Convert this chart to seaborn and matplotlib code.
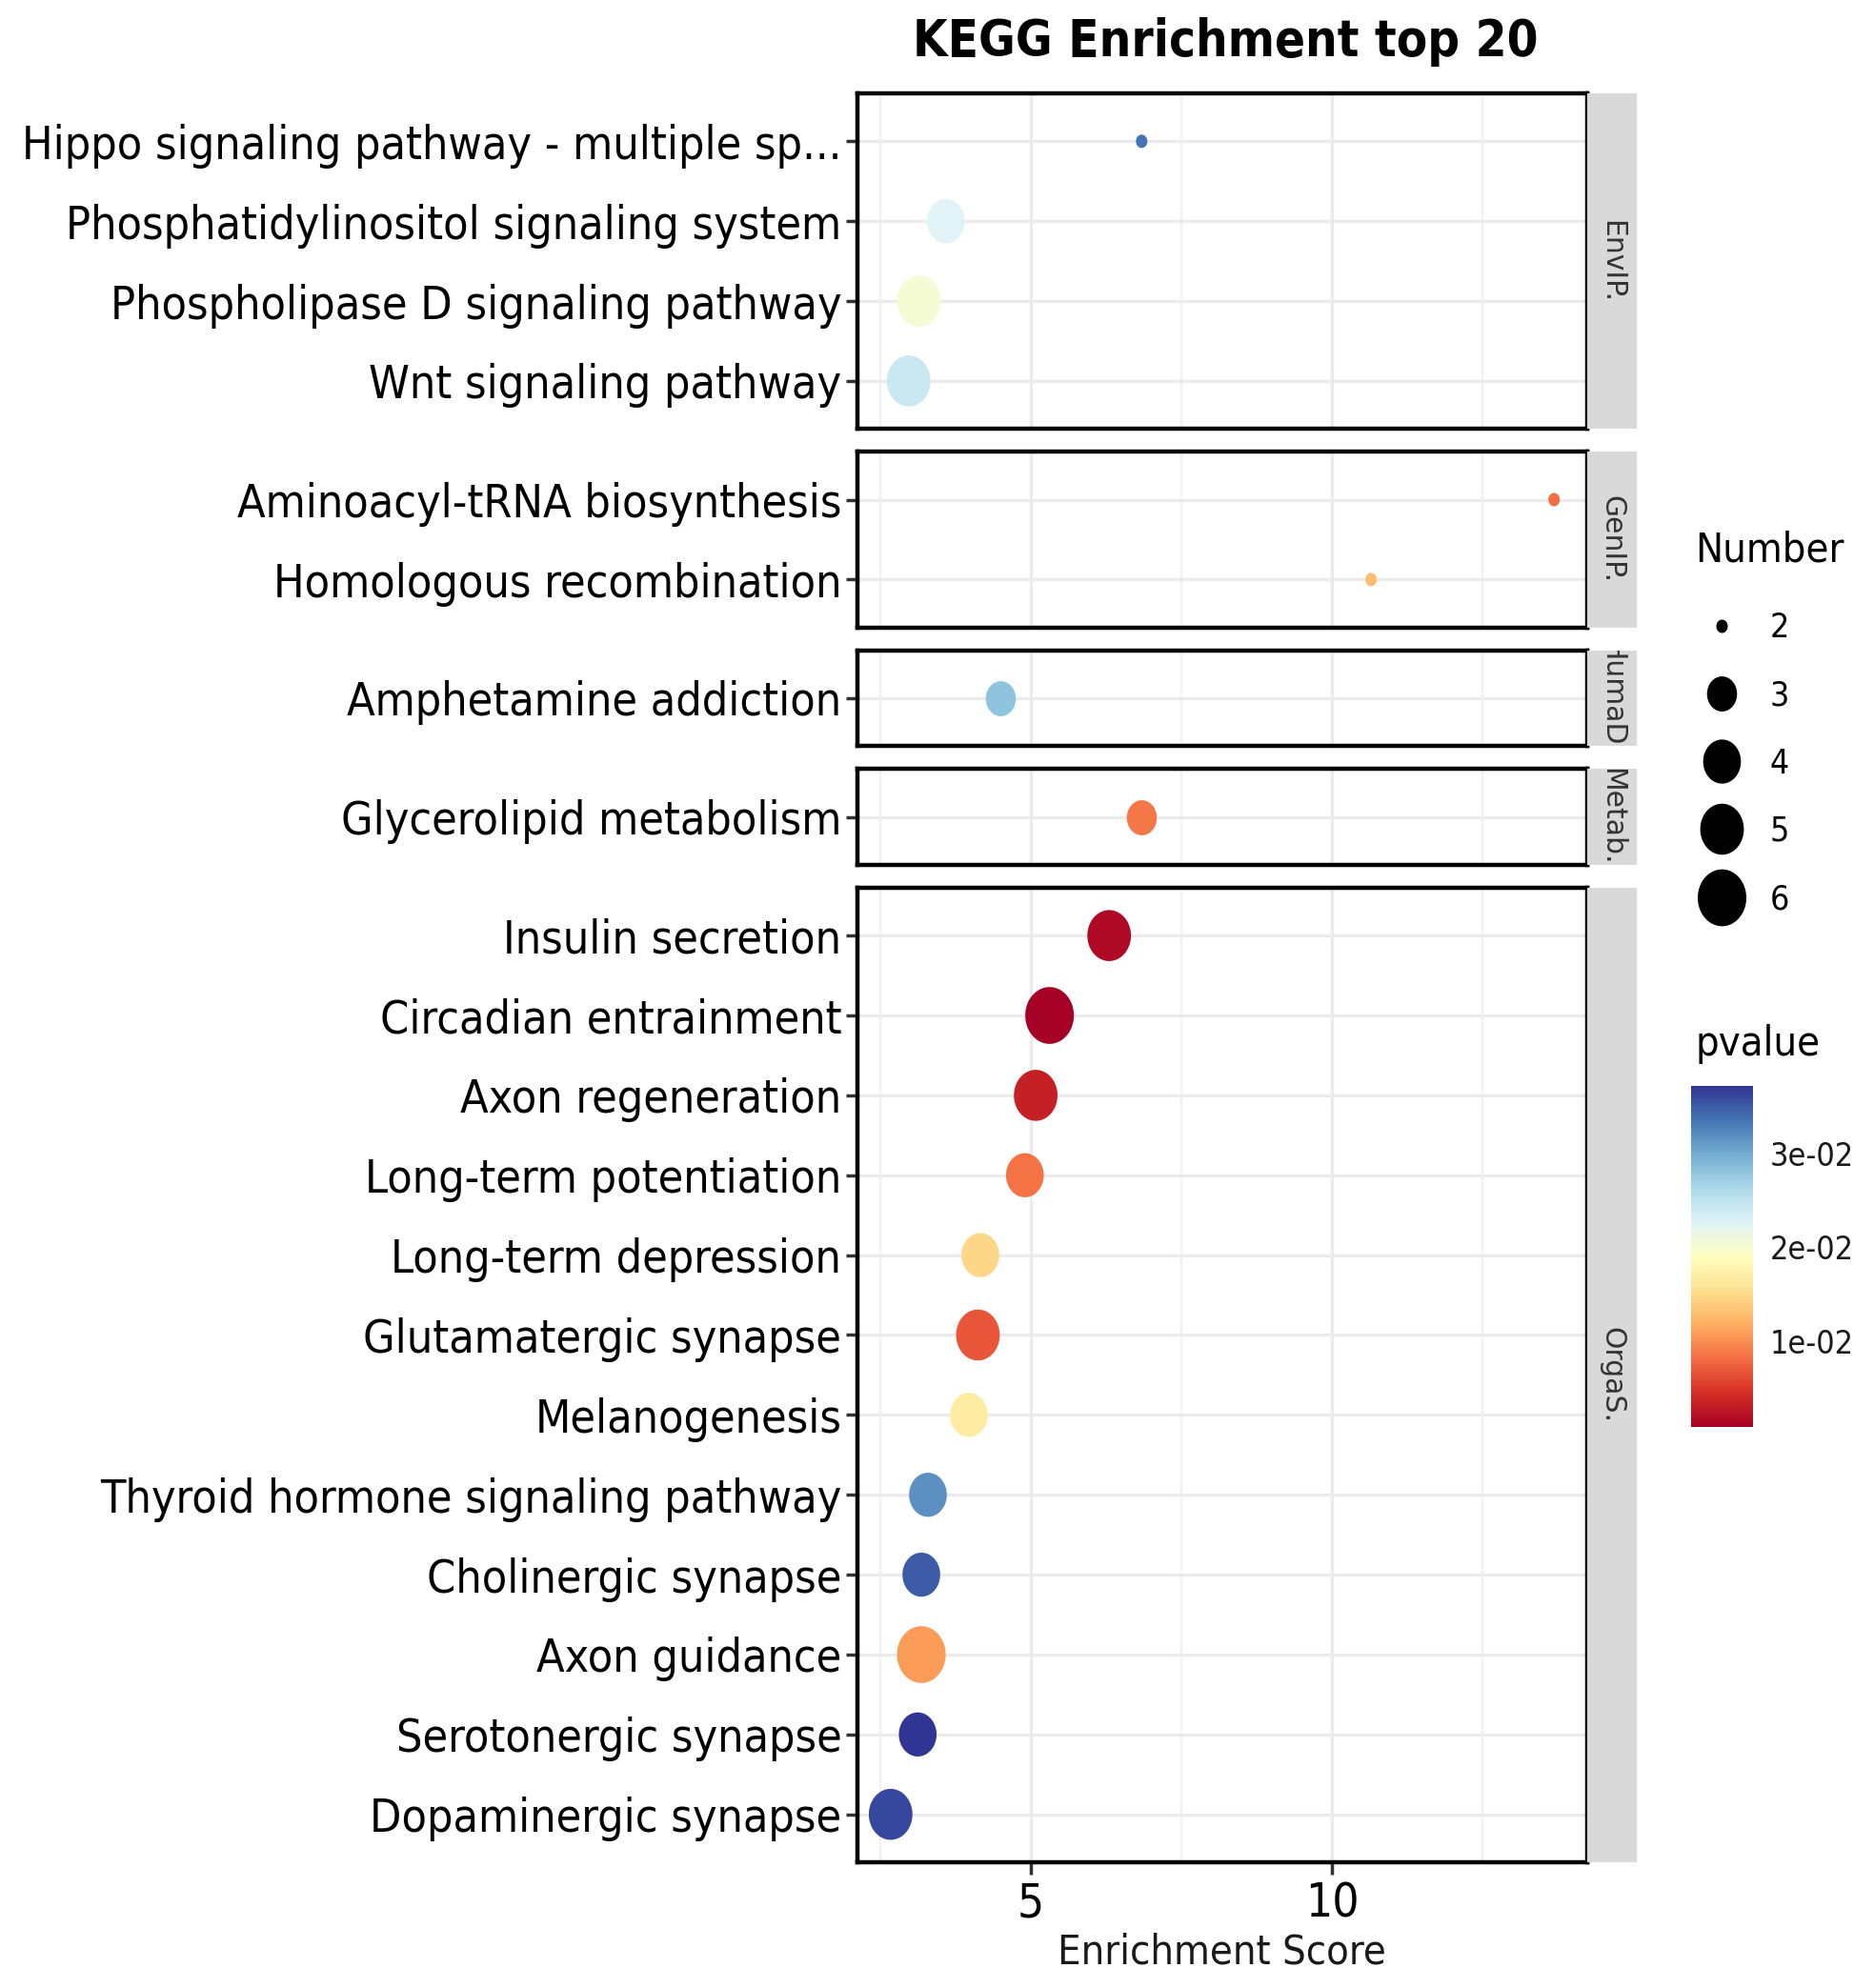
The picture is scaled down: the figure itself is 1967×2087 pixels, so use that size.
import numpy as np
import pandas as pd
import matplotlib
matplotlib.use('Agg')
import matplotlib.pyplot as plt
import seaborn as sns
from matplotlib import font_manager as fm
from matplotlib.path import Path
from matplotlib.lines import Line2D
from matplotlib.colors import Normalize
from matplotlib.cm import ScalarMappable
from matplotlib.ticker import MultipleLocator

# KEGG top 20 terms, listed top to bottom inside each class
terms = ["Hippo signaling pathway - multiple sp...", "Phosphatidylinositol signaling system",
         "Phospholipase D signaling pathway", "Wnt signaling pathway",
         "Aminoacyl-tRNA biosynthesis", "Homologous recombination",
         "Amphetamine addiction", "Glycerolipid metabolism",
         "Insulin secretion", "Circadian entrainment", "Axon regeneration",
         "Long-term potentiation", "Long-term depression", "Glutamatergic synapse",
         "Melanogenesis", "Thyroid hormone signaling pathway", "Cholinergic synapse",
         "Axon guidance", "Serotonergic synapse", "Dopaminergic synapse"]
classes = ["EnvIP."] * 4 + ["GenIP."] * 2 + ["HumaD."] + ["Metab."] + ["OrgaS."] * 12
scores = [6.84, 3.59, 3.14, 2.97, 13.69, 10.65, 4.49, 6.84, 6.30, 5.31, 5.08, 4.90,
          4.16, 4.12, 3.97, 3.29, 3.18, 3.18, 3.12, 2.67]
numbers = [2, 4, 5, 5, 2, 2, 3, 3, 5, 6, 5, 4, 4, 5, 4, 4, 4, 6, 4, 5]
pvalues = [0.0336, 0.0225, 0.0203, 0.0242, 0.0081, 0.0128, 0.0281, 0.0088, 0.0016,
           0.00086, 0.0034, 0.0085, 0.0147, 0.0067, 0.0168, 0.0317, 0.0350, 0.0107,
           0.0372, 0.0362]
class_order = ["EnvIP.", "GenIP.", "HumaD.", "Metab.", "OrgaS."]
number_levels = [2, 3, 4, 5, 6]
cbar_ticks = [0.01, 0.02, 0.03]
cbar_labels = ["1e-02", "2e-02", "3e-02"]

data = pd.DataFrame({'term': terms, 'class': classes, 'score': scores,
                     'Number': numbers, 'pvalue': pvalues})

sns.set_theme(style='white')
# condensed DejaVu gives the tall narrow look of the original, if installed
condensed = any(f.name == 'DejaVu Sans' and f.stretch == 'condensed'
                for f in fm.fontManager.ttflist)
k = 1 / 0.9 if condensed else 1.0
plt.rcParams['font.family'] = ['DejaVu Sans']
plt.rcParams['font.stretch'] = 'condensed' if condensed else 'normal'
plt.rcParams['text.color'] = 'black'
plt.rcParams['axes.labelcolor'] = 'black'

# points in the original are slightly taller than wide
t = np.linspace(0, 2 * np.pi, 80)
ellipse = Path(np.column_stack([0.855 * np.cos(t), np.sin(t)]), closed=True)


def height_pt(v):
    lo, hi = min(number_levels), max(number_levels)
    return 1.17 * (12 + 39 * np.sqrt((v - lo) / (hi - lo))) * 0.72


size_map = {v: height_pt(v) ** 2 for v in number_levels}
norm = Normalize(vmin=min(pvalues), vmax=max(pvalues))
cmap = plt.get_cmap('RdYlBu')

W, H = 1967, 2087
fig = plt.figure(figsize=(W / 100, H / 100), dpi=100)
counts = [classes.count(c) for c in class_order]
gs = fig.add_gridspec(len(class_order), 2, height_ratios=[n + 0.2 for n in counts],
                      width_ratios=[766, 52], left=900 / W, right=1718 / W,
                      top=1 - 98 / H, bottom=1 - 1955 / H, hspace=0.068, wspace=0)

span = max(scores) - min(scores)
xlim = (min(scores) - 0.05 * span, max(scores) + 0.05 * span)

for i, cl in enumerate(class_order):
    ax = fig.add_subplot(gs[i, 0])
    sub = data[data['class'] == cl]
    sns.scatterplot(data=sub, x='score', y='term', hue='pvalue', size='Number',
                    palette=cmap, hue_norm=norm, sizes=size_map, marker=ellipse,
                    linewidth=0, legend=False, ax=ax, zorder=3)
    ax.set_xlim(xlim)
    ax.set_ylim(len(sub) - 0.4, -0.6)
    ax.set_xlabel('')
    ax.set_ylabel('')
    ax.xaxis.set_major_locator(MultipleLocator(5))
    ax.xaxis.set_minor_locator(MultipleLocator(2.5))
    ax.set_axisbelow(True)
    ax.grid(True, which='major', color='#EBEBEB', lw=2.4)
    ax.grid(True, which='minor', axis='x', color='#F2F2F2', lw=1.6)
    for sp in ax.spines.values():
        sp.set_visible(True)
        sp.set_color('black')
        sp.set_linewidth(3.2)
    ax.tick_params(axis='y', left=True, length=9, width=2.5, color='#333333',
                   pad=3, labelsize=31.3 * k, labelcolor='black')
    ax.tick_params(axis='x', which='minor', length=0)
    if i == len(class_order) - 1:
        ax.tick_params(axis='x', bottom=True, length=9, width=2.5, color='#333333',
                       pad=5, labelsize=32 * k, labelcolor='black')
    else:
        ax.tick_params(axis='x', bottom=False, labelbottom=False)

    strip = fig.add_subplot(gs[i, 1])
    strip.set_facecolor('#D9D9D9')
    strip.set_xticks([])
    strip.set_yticks([])
    for sp in strip.spines.values():
        sp.set_visible(False)
    strip.text(0.5, 0.5, cl, rotation=270, ha='center', va='center',
               transform=strip.transAxes, fontsize=21.5, color='#333333',
               fontstretch='normal', clip_on=True)

fig.text(1286 / W, 1 - 44 / H, 'KEGG Enrichment top 20', ha='center', va='center',
         fontsize=34.1 * k, fontweight='bold', color='black')
fig.text(1282 / W, 1 - 2050 / H, 'Enrichment Score', ha='center', va='center',
         fontsize=28 * k, color='#1a1a1a')

# size legend
fig.text(1779 / W, 1 - 577 / H, 'Number', ha='left', va='center', fontsize=28 * k)
handles = [Line2D([], [], marker=ellipse, ls='', color='black', markeredgewidth=0,
                  markersize=height_pt(v)) for v in number_levels]
fs = 23 * k
fig.legend(handles, [str(v) for v in number_levels], loc='upper left',
           bbox_to_anchor=(1777 / W, 1 - 642 / H), frameon=False, fontsize=fs,
           borderpad=0, borderaxespad=0, labelspacing=1.05,
           handlelength=43 / fs, handletextpad=15 / fs)

# colour bar
fig.text(1779 / W, 1 - 1096 / H, 'pvalue', ha='left', va='center', fontsize=28 * k)
cax = fig.add_axes([1775 / W, 1 - 1498 / H, 65 / W, 358 / H])
cb = fig.colorbar(ScalarMappable(norm=norm, cmap=cmap), cax=cax)
cb.outline.set_visible(False)
cb.set_ticks(cbar_ticks)
cb.set_ticklabels(cbar_labels)
cax.tick_params(direction='in', length=13, width=1.5, color='white', left=True,
                right=True, labelsize=22 * k, pad=13, labelcolor='#1a1a1a')

fig.savefig('out.png', dpi=100)
